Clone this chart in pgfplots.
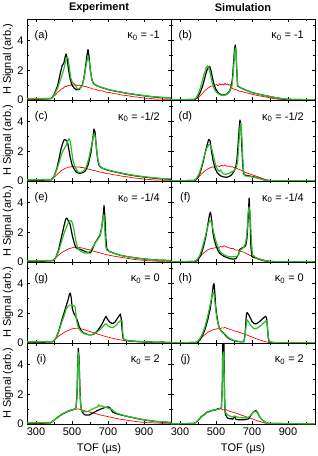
\documentclass[border=0pt]{standalone}
\usepackage{fontspec}
\setmainfont{Liberation Sans}
\usepackage{pgfplots}
\pgfplotsset{compat=1.18}
\usepgfplotslibrary{groupplots}
\definecolor{cgreen}{RGB}{40,190,40}
\definecolor{cred}{RGB}{255,0,0}
\newcommand{\lbl}{\fontsize{11}{13}\selectfont}
\newcommand{\plab}[2]{\node[anchor=center,font=\lbl,inner sep=0pt] at (axis description cs:0.1,0.79) {#1};
 \node[anchor=east,font=\lbl,inner sep=0pt] at (axis description cs:0.924,0.79) {κ\textsubscript{0} = #2};}
\pgfplotsset{blk/.style={black,line width=1.2pt,line join=round},
 grn/.style={cgreen,line width=1.2pt,line join=round},
 rd/.style={cred,line width=0.7pt,line join=round}}
\begin{document}
\begin{tikzpicture}
\begin{groupplot}[group style={group size=2 by 5, horizontal sep=0pt, vertical sep=0pt,
   xticklabels at=edge bottom, yticklabels at=edge left, group name=group},
  width=144pt, height=81pt, scale only axis,
  xmin=250, xmax=1050, ymin=0, ymax=5.45,
  xtick={300,500,700,900}, minor xtick={400,600,800,1000},
  ytick={0,2,4}, minor ytick={1,3,5},
  tick align=inside, major tick length=3pt, minor tick length=2pt,
  tick style={black, line width=0.5pt},
  axis line style={line width=0.6pt},
  /pgf/number format/assume math mode=true,
  ticklabel style={font=\lbl},
  every axis y label/.style={at={(axis description cs:-0.132,0.5)}, rotate=90, anchor=center, font=\lbl},
  every axis x label/.style={at={(axis description cs:0.5,0)}, anchor=center, yshift=-25pt, font=\lbl},
  every axis title/.style={at={(axis description cs:0.5,1)}, anchor=center, yshift=11pt, font=\lbl\bfseries},
  clip=true]
% (a)
\nextgroupplot[ylabel={H Signal (arb.)}, title={Experiment}]
\addplot[rd] coordinates {(250,0.05)(300,0.03)(350,0.06)(380,0.07)(390,0.15)(400,0.26)(410,0.36)(420,0.52)(430,0.6)(440,0.74)(450,0.78)(460,0.9)(470,0.91)(480,1.0)(490,0.98)(500,1.04)(510,0.99)(520,1.03)(530,0.98)(540,1.0)(550,0.95)(560,0.96)(570,0.91)(580,0.9)(590,0.84)(600,0.82)(615,0.74)(630,0.72)(650,0.63)(670,0.61)(690,0.52)(710,0.5)(730,0.43)(750,0.41)(780,0.33)(810,0.29)(840,0.22)(870,0.19)(900,0.13)(930,0.11)(960,0.07)(1000,0.06)(1050,0.04)};
\addplot[blk] coordinates {(250,0.08)(300,0.08)(350,0.08)(385,0.1)(400,0.35)(420,0.95)(435,1.8)(445,2.3)(455,2.5)(462,2.9)(467,3.1)(472,2.9)(480,2.1)(490,1.4)(500,1.0)(512,0.8)(525,0.68)(540,0.72)(555,0.95)(565,1.4)(575,2.2)(583,3.0)(589,3.4)(595,2.9)(602,2.0)(610,1.4)(620,1.1)(640,0.95)(670,0.82)(710,0.67)(760,0.55)(810,0.44)(860,0.35)(910,0.27)(960,0.2)(1010,0.16)(1050,0.14)};
\addplot[grn] coordinates {(250,0.1)(385,0.1)(400,0.3)(420,0.8)(440,1.5)(455,2.1)(465,2.6)(472,2.9)(478,2.8)(485,2.2)(493,1.5)(503,1.15)(512,1.1)(520,0.95)(530,0.75)(545,0.75)(558,1.0)(568,1.5)(578,2.3)(586,2.8)(591,2.9)(597,2.5)(604,1.8)(612,1.3)(622,1.05)(640,0.95)(670,0.83)(710,0.68)(760,0.56)(810,0.45)(860,0.36)(910,0.28)(960,0.21)(1010,0.17)(1050,0.15)};
\plab{(a)}{-1}
% (b)
\nextgroupplot[title={Simulation}]
\addplot[rd] coordinates {(250,0.02)(380,0.03)(395,0.1)(410,0.25)(425,0.45)(440,0.65)(455,0.8)(465,0.88)(475,0.95)(485,0.92)(495,1.0)(505,1.05)(512,0.95)(520,1.1)(528,1.0)(535,1.08)(542,1.0)(550,1.12)(557,1.02)(565,1.08)(572,0.98)(580,1.05)(588,0.8)(595,0.75)(605,0.72)(615,0.68)(630,0.6)(650,0.55)(670,0.48)(690,0.42)(710,0.36)(730,0.3)(750,0.26)(770,0.22)(790,0.17)(810,0.12)(830,0.08)(850,0.05)(880,0.03)(1050,0.02)};
\addplot[blk] coordinates {(250,0.02)(380,0.03)(395,0.15)(410,0.45)(425,0.9)(438,1.5)(448,1.95)(458,2.2)(465,2.25)(472,2.0)(480,1.5)(490,1.0)(500,0.7)(515,0.45)(530,0.35)(545,0.33)(560,0.4)(575,0.6)(585,0.9)(592,1.5)(598,2.6)(603,3.4)(607,3.7)(611,3.3)(615,2.0)(620,0.95)(640,0.8)(670,0.65)(700,0.5)(740,0.38)(780,0.28)(820,0.18)(860,0.1)(900,0.05)(950,0.03)(1050,0.02)};
\addplot[grn] coordinates {(250,0.02)(375,0.03)(390,0.15)(405,0.5)(420,1.1)(433,1.7)(445,2.15)(453,2.3)(460,2.2)(468,1.8)(478,1.2)(488,0.8)(500,0.55)(515,0.4)(530,0.32)(545,0.3)(560,0.38)(575,0.55)(588,0.9)(596,1.8)(602,2.9)(607,3.5)(612,3.2)(616,2.0)(620,1.0)(640,0.8)(670,0.65)(700,0.5)(740,0.38)(780,0.28)(820,0.18)(860,0.1)(900,0.05)(950,0.03)(1050,0.02)};
\plab{(b)}{-1}
% (c)
\nextgroupplot[ylabel={H Signal (arb.)}]
\addplot[rd] coordinates {(250,0.05)(300,0.03)(350,0.06)(380,0.07)(390,0.14)(400,0.24)(410,0.35)(420,0.48)(430,0.58)(440,0.7)(450,0.76)(460,0.85)(470,0.88)(480,0.95)(490,0.93)(500,0.98)(510,0.94)(520,0.97)(530,0.93)(540,0.95)(550,0.9)(560,0.91)(570,0.87)(580,0.86)(590,0.8)(600,0.78)(615,0.72)(630,0.69)(650,0.61)(670,0.58)(690,0.5)(710,0.48)(730,0.42)(750,0.39)(780,0.32)(810,0.28)(840,0.21)(870,0.18)(900,0.13)(930,0.1)(960,0.07)(1000,0.06)(1050,0.04)};
\addplot[blk] coordinates {(250,0.06)(385,0.08)(400,0.3)(415,0.8)(428,1.5)(440,2.2)(450,2.6)(458,2.8)(466,2.75)(473,2.7)(480,2.3)(490,1.6)(500,1.1)(510,0.85)(520,0.65)(530,0.55)(545,0.52)(560,0.56)(575,0.7)(590,1.1)(605,1.9)(615,2.8)(622,3.5)(628,3.3)(635,2.3)(643,1.4)(652,1.0)(670,0.85)(700,0.72)(750,0.58)(800,0.45)(850,0.35)(900,0.27)(950,0.2)(1000,0.15)(1050,0.12)};
\addplot[grn] coordinates {(250,0.08)(385,0.1)(400,0.3)(415,0.75)(430,1.3)(445,1.9)(458,2.2)(468,2.4)(476,2.7)(484,2.85)(490,2.7)(497,2.1)(505,1.4)(515,1.0)(525,0.75)(535,0.6)(548,0.58)(562,0.65)(578,0.9)(593,1.5)(607,2.3)(617,2.9)(624,3.2)(630,2.9)(637,2.1)(645,1.35)(655,1.0)(670,0.87)(700,0.74)(750,0.6)(800,0.47)(850,0.37)(900,0.29)(950,0.22)(1000,0.17)(1050,0.14)};
\plab{(c)}{-1/2}
% (d)
\nextgroupplot
\addplot[rd] coordinates {(250,0.02)(375,0.03)(390,0.1)(405,0.28)(420,0.48)(435,0.65)(450,0.78)(460,0.85)(470,0.9)(480,0.95)(490,0.92)(500,1.0)(510,1.02)(520,0.96)(530,1.06)(540,1.0)(550,1.08)(560,0.98)(570,1.02)(580,0.95)(590,0.97)(600,0.9)(615,0.85)(630,0.78)(645,0.7)(660,0.6)(680,0.5)(700,0.42)(720,0.34)(740,0.25)(760,0.16)(780,0.08)(800,0.04)(830,0.02)(1050,0.02)};
\addplot[blk] coordinates {(250,0.02)(380,0.03)(395,0.15)(410,0.5)(425,1.1)(440,1.9)(452,2.5)(460,2.8)(467,2.7)(475,2.0)(485,1.3)(495,0.85)(505,0.6)(515,0.45)(525,0.35)(540,0.28)(555,0.25)(570,0.28)(585,0.4)(598,0.6)(608,0.85)(615,1.3)(622,2.3)(628,3.4)(633,4.1)(638,3.8)(643,2.5)(648,1.2)(653,0.5)(660,0.4)(680,0.35)(700,0.3)(720,0.25)(740,0.18)(760,0.1)(780,0.04)(800,0.02)(1050,0.02)};
\addplot[grn] coordinates {(250,0.02)(375,0.03)(390,0.15)(405,0.45)(420,1.0)(435,1.7)(448,2.2)(460,2.45)(470,2.4)(480,2.0)(490,1.45)(500,1.0)(510,0.75)(518,0.65)(525,0.75)(532,0.62)(540,0.48)(555,0.45)(570,0.5)(585,0.6)(600,0.7)(612,0.85)(620,1.3)(627,2.5)(633,3.6)(638,3.9)(642,3.4)(647,2.0)(652,0.8)(658,0.35)(680,0.32)(700,0.28)(720,0.24)(740,0.17)(760,0.1)(780,0.04)(800,0.02)(1050,0.02)};
\plab{(d)}{-1/2}
% (e)
\nextgroupplot[ylabel={H Signal (arb.)}]
\addplot[rd] coordinates {(250,0.05)(380,0.06)(395,0.15)(410,0.3)(425,0.45)(440,0.6)(455,0.72)(470,0.82)(485,0.9)(500,0.95)(515,1.0)(530,1.0)(545,0.97)(560,0.93)(575,0.88)(590,0.84)(605,0.78)(620,0.73)(640,0.66)(660,0.6)(680,0.53)(700,0.47)(730,0.4)(760,0.34)(790,0.28)(820,0.22)(850,0.17)(880,0.13)(920,0.09)(960,0.06)(1050,0.04)};
\addplot[blk] coordinates {(250,0.06)(395,0.08)(410,0.3)(425,0.8)(440,1.6)(455,2.4)(465,2.9)(472,2.95)(480,2.75)(488,2.6)(495,2.2)(503,1.7)(512,1.3)(520,1.0)(530,0.9)(545,0.85)(560,0.78)(575,0.7)(590,0.62)(602,0.62)(615,0.9)(628,1.3)(640,1.5)(655,1.8)(665,2.3)(672,3.0)(678,3.8)(683,3.0)(688,1.6)(693,0.9)(705,0.72)(730,0.6)(770,0.45)(820,0.33)(870,0.25)(920,0.18)(970,0.13)(1050,0.1)};
\addplot[grn] coordinates {(250,0.08)(395,0.1)(410,0.3)(425,0.7)(440,1.3)(455,1.9)(468,2.3)(478,2.6)(487,2.75)(495,2.8)(503,2.6)(512,2.1)(520,1.5)(530,1.0)(540,0.8)(555,0.68)(570,0.6)(585,0.6)(600,0.72)(615,1.0)(630,1.3)(645,1.55)(658,1.8)(666,2.4)(672,3.1)(677,3.2)(682,2.2)(687,1.1)(693,0.8)(705,0.72)(730,0.6)(770,0.45)(820,0.33)(870,0.25)(920,0.18)(970,0.13)(1050,0.1)};
\plab{(e)}{-1/4}
% (f)
\nextgroupplot
\addplot[rd] coordinates {(250,0.02)(375,0.03)(390,0.12)(405,0.28)(420,0.48)(435,0.65)(450,0.78)(465,0.88)(480,0.92)(495,0.95)(505,1.0)(515,0.96)(525,1.05)(535,1.0)(545,1.1)(555,1.03)(565,0.98)(575,0.95)(585,0.9)(595,0.92)(605,0.82)(620,0.8)(635,0.72)(650,0.68)(665,0.6)(680,0.5)(700,0.38)(720,0.26)(740,0.16)(760,0.08)(780,0.04)(820,0.02)(1050,0.02)};
\addplot[blk] coordinates {(250,0.02)(385,0.03)(400,0.15)(415,0.45)(430,1.0)(445,1.8)(456,2.6)(464,3.2)(470,3.35)(476,2.8)(483,2.0)(490,1.5)(500,1.1)(510,0.8)(520,0.6)(535,0.45)(550,0.35)(565,0.28)(580,0.22)(595,0.2)(610,0.22)(625,0.5)(632,0.85)(645,0.95)(655,1.0)(665,1.1)(672,1.6)(678,2.8)(684,4.3)(689,3.0)(694,1.0)(700,0.35)(720,0.28)(740,0.2)(770,0.1)(800,0.04)(830,0.02)(1050,0.02)};
\addplot[grn] coordinates {(250,0.02)(380,0.03)(395,0.15)(410,0.45)(425,1.0)(440,1.7)(452,2.3)(462,2.7)(470,2.8)(478,2.5)(487,2.0)(497,1.5)(507,1.15)(517,0.85)(527,0.65)(537,0.55)(550,0.45)(565,0.38)(580,0.35)(600,0.35)(615,0.38)(625,0.45)(632,0.75)(645,0.9)(655,1.0)(665,1.3)(672,2.0)(678,3.2)(684,3.7)(690,3.2)(696,1.6)(702,0.5)(720,0.3)(740,0.2)(770,0.1)(800,0.04)(830,0.02)(1050,0.02)};
\plab{(f)}{-1/4}
% (g)
\nextgroupplot[ylabel={H Signal (arb.)}]
\addplot[rd] coordinates {(250,0.05)(380,0.06)(395,0.15)(410,0.3)(425,0.45)(440,0.58)(455,0.7)(470,0.8)(485,0.88)(500,0.95)(515,0.98)(530,1.0)(545,0.96)(560,0.92)(575,0.87)(590,0.8)(605,0.75)(620,0.7)(635,0.64)(650,0.58)(665,0.52)(680,0.46)(700,0.4)(720,0.33)(740,0.28)(760,0.23)(780,0.18)(800,0.14)(830,0.1)(870,0.07)(920,0.05)(1050,0.04)};
\addplot[blk] coordinates {(250,0.06)(395,0.08)(410,0.3)(425,0.75)(440,1.4)(455,2.0)(468,2.5)(478,2.9)(486,3.3)(491,3.35)(496,3.0)(502,2.3)(510,2.0)(520,1.8)(530,1.5)(540,1.1)(550,0.85)(562,0.7)(580,0.6)(595,0.55)(610,0.55)(625,0.62)(640,0.8)(655,1.05)(668,1.3)(680,1.6)(689,1.8)(697,1.6)(710,1.4)(725,1.3)(738,1.4)(752,1.65)(763,1.85)(769,1.95)(774,1.6)(779,0.8)(784,0.3)(795,0.2)(820,0.14)(870,0.1)(920,0.07)(970,0.05)(1050,0.04)};
\addplot[grn] coordinates {(250,0.08)(395,0.1)(410,0.3)(425,0.7)(440,1.3)(455,1.8)(468,2.3)(478,2.45)(486,2.55)(500,2.55)(512,2.5)(518,2.4)(524,1.6)(532,1.15)(542,0.9)(555,0.72)(570,0.62)(585,0.57)(600,0.55)(615,0.58)(630,0.66)(645,0.8)(660,0.95)(675,1.15)(689,1.3)(700,1.15)(715,1.05)(730,1.05)(745,1.2)(760,1.4)(772,1.55)(778,1.5)(783,0.6)(788,0.25)(800,0.18)(820,0.14)(870,0.1)(920,0.07)(970,0.05)(1050,0.04)};
\plab{(g)}{0}
% (h)
\nextgroupplot
\addplot[rd] coordinates {(250,0.02)(380,0.03)(395,0.1)(410,0.25)(425,0.42)(440,0.58)(455,0.72)(470,0.82)(485,0.9)(500,0.93)(510,0.97)(520,0.95)(530,1.02)(540,1.0)(550,1.05)(560,0.98)(570,0.95)(580,0.9)(590,0.88)(600,0.82)(615,0.78)(630,0.72)(645,0.65)(660,0.6)(675,0.52)(690,0.45)(705,0.38)(720,0.3)(735,0.24)(750,0.18)(765,0.12)(780,0.07)(800,0.04)(830,0.02)(1050,0.02)};
\addplot[blk] coordinates {(250,0.02)(395,0.03)(410,0.2)(425,0.5)(440,0.95)(455,1.6)(468,2.3)(478,3.2)(485,3.9)(489,4.0)(493,3.5)(498,2.5)(505,1.8)(512,1.3)(520,0.95)(530,0.8)(540,0.7)(550,0.55)(565,0.35)(580,0.25)(600,0.15)(620,0.1)(640,0.08)(655,0.08)(662,0.6)(668,1.8)(672,2.05)(680,1.95)(690,1.7)(700,1.45)(712,1.3)(725,1.3)(738,1.4)(752,1.55)(765,1.7)(775,1.8)(781,1.7)(786,1.0)(791,0.3)(796,0.05)(830,0.02)(1050,0.02)};
\addplot[grn] coordinates {(250,0.02)(390,0.03)(405,0.2)(420,0.5)(435,0.95)(450,1.6)(463,2.3)(473,2.9)(481,3.35)(486,3.4)(491,3.1)(497,2.4)(504,1.7)(512,1.25)(520,0.95)(530,0.8)(540,0.65)(548,0.62)(555,0.55)(565,0.4)(580,0.28)(600,0.18)(620,0.12)(640,0.1)(656,0.1)(663,0.6)(668,1.3)(673,1.55)(682,1.4)(692,1.2)(703,1.05)(715,0.95)(728,1.0)(742,1.1)(756,1.25)(770,1.4)(779,1.5)(785,1.2)(790,0.5)(796,0.08)(830,0.02)(1050,0.02)};
\plab{(h)}{0}
% (i)
\nextgroupplot[ylabel={H Signal (arb.)}, xlabel={TOF (µs)}]
\addplot[rd] coordinates {(250,0.04)(380,0.06)(395,0.18)(410,0.33)(425,0.48)(440,0.6)(455,0.7)(470,0.8)(485,0.87)(500,0.93)(515,0.97)(525,1.0)(535,1.02)(545,0.98)(555,0.95)(570,0.9)(585,0.85)(600,0.8)(615,0.75)(630,0.7)(645,0.65)(660,0.6)(680,0.55)(700,0.5)(720,0.44)(740,0.39)(760,0.34)(780,0.3)(800,0.26)(830,0.21)(860,0.16)(890,0.12)(920,0.09)(960,0.07)(1000,0.05)(1050,0.04)};
\addplot[blk] coordinates {(250,0.06)(380,0.08)(395,0.2)(410,0.35)(425,0.5)(440,0.62)(455,0.73)(470,0.82)(485,0.9)(500,0.95)(515,1.0)(522,1.1)(527,1.8)(531,3.5)(535,5.1)(539,4.5)(543,2.8)(547,1.5)(552,0.95)(560,0.75)(570,0.62)(580,0.6)(595,0.6)(610,0.7)(625,0.8)(640,0.9)(655,0.98)(670,1.05)(685,1.12)(700,1.15)(710,1.1)(718,0.95)(726,0.8)(745,0.7)(770,0.62)(800,0.53)(830,0.45)(860,0.37)(890,0.3)(920,0.24)(950,0.19)(980,0.15)(1020,0.12)(1050,0.1)};
\addplot[grn] coordinates {(250,0.08)(380,0.1)(395,0.2)(410,0.35)(425,0.5)(440,0.63)(455,0.74)(470,0.83)(485,0.9)(500,0.95)(515,1.0)(522,1.1)(527,1.7)(531,3.3)(535,4.8)(539,4.3)(543,2.6)(547,1.4)(552,0.95)(560,0.85)(575,0.82)(590,0.85)(605,0.95)(620,1.05)(632,1.1)(642,1.15)(648,1.3)(655,1.2)(665,1.22)(678,1.15)(692,1.1)(705,1.05)(718,1.0)(730,0.9)(745,0.75)(770,0.64)(800,0.54)(830,0.46)(860,0.38)(890,0.31)(920,0.25)(950,0.2)(980,0.16)(1020,0.13)(1050,0.11)};
\plab{(i)}{2}
% (j)
\nextgroupplot[xlabel={TOF (µs)}]
\addplot[rd] coordinates {(250,0.02)(375,0.03)(390,0.12)(405,0.3)(420,0.5)(435,0.65)(450,0.78)(465,0.85)(480,0.92)(495,0.95)(510,1.0)(525,1.05)(540,0.95)(555,0.98)(570,0.88)(585,0.82)(600,0.78)(615,0.72)(630,0.65)(645,0.58)(660,0.52)(675,0.45)(690,0.38)(705,0.33)(720,0.26)(735,0.2)(750,0.14)(765,0.08)(780,0.05)(800,0.03)(1050,0.02)};
\addplot[blk] coordinates {(250,0.02)(375,0.03)(390,0.12)(405,0.3)(420,0.52)(435,0.63)(450,0.8)(465,0.84)(480,0.93)(495,0.94)(510,1.02)(522,1.02)(530,1.1)(535,2.5)(538,6)(541,6)(544,6)(547,2.0)(551,0.7)(558,0.5)(566,0.4)(575,0.35)(585,0.35)(592,0.32)(600,0.45)(605,0.5)(610,0.32)(625,0.28)(645,0.28)(665,0.3)(680,0.35)(690,0.5)(700,0.7)(712,0.85)(722,0.9)(732,0.75)(742,0.5)(755,0.3)(770,0.15)(785,0.06)(800,0.03)(1050,0.02)};
\addplot[grn] coordinates {(250,0.02)(375,0.03)(390,0.12)(405,0.32)(420,0.48)(435,0.67)(450,0.76)(465,0.87)(480,0.9)(495,0.97)(510,0.98)(522,1.06)(530,1.1)(535,2.5)(538,4.6)(541,4.85)(544,4.5)(547,2.0)(551,0.8)(558,0.7)(566,0.6)(575,0.55)(585,0.5)(595,0.48)(603,0.55)(610,0.5)(625,0.45)(645,0.42)(665,0.42)(680,0.45)(690,0.55)(700,0.7)(712,0.82)(722,0.85)(732,0.72)(742,0.5)(755,0.3)(770,0.15)(785,0.06)(800,0.03)(1050,0.02)};
\plab{(j)}{2}
\end{groupplot}
\pgfresetboundingbox
\path[use as bounding box] ([shift={(-27pt,19pt)}]group c1r1.north west) rectangle ([shift={(3pt,-32pt)}]group c2r5.south east);
\end{tikzpicture}
\end{document}
